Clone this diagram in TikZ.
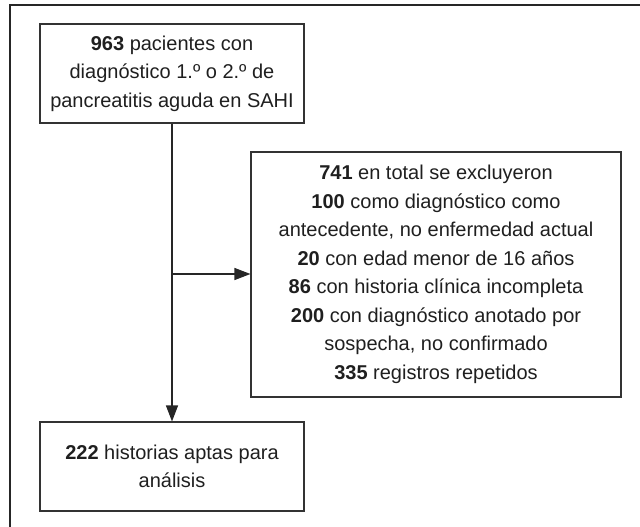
\documentclass[tikz,border=0pt]{standalone}
\usepackage{fontspec}
\setmainfont{Liberation Sans}
\usetikzlibrary{arrows.meta}
\begin{document}
\begin{tikzpicture}[x=1pt,y=-1pt,
  box/.style={draw=black!80, line width=1.1pt, align=center, inner sep=0pt,
    font=\fontsize{20}{28.5}\selectfont, text=black!88},
  conn/.style={draw=black!85, line width=1.2pt},
  arr/.style={conn, -{Triangle[length=16pt,width=12pt]}}]
\useasboundingbox (0,0) rectangle (640,527);
\draw[line width=1.4pt, black!85] (10,527) -- (10,5) -- (640,5);
\node[box, minimum width=264pt, minimum height=99pt] (top) at (172,73.5)
  {\textbf{963} pacientes con\\diagnóstico 1.º o 2.º de\\pancreatitis aguda en SAHI};
\node[box, minimum width=370pt, minimum height=245pt] (excl) at (436,274.5)
  {\textbf{741} en total se excluyeron\\
   \textbf{100} como diagnóstico como\\
   antecedente, no enfermedad actual\\
   \textbf{20} con edad menor de 16 años\\
   \textbf{86} con historia clínica incompleta\\
   \textbf{200} con diagnóstico anotado por\\
   sospecha, no confirmado\\
   \textbf{335} registros repetidos};
\node[box, minimum width=264pt, minimum height=89pt] (bot) at (172,466.5)
  {\textbf{222} historias aptas para\\análisis};
\coordinate (j) at (172,274);
\draw[arr] (top.south) -- (bot.north);
\draw[arr] (j) -- (j -| excl.west);
\end{tikzpicture}
\end{document}
